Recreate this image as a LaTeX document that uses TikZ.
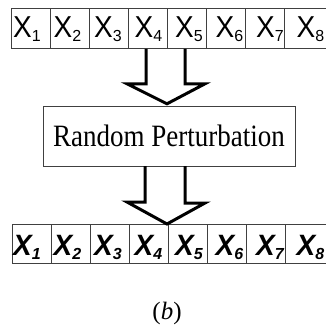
\documentclass[tikz,border=0pt]{standalone}
\usepackage{fontspec}
\setmainfont{Liberation Serif}
\newfontfamily\arialf{Liberation Sans}
\usetikzlibrary{calc}
\newcommand\subidx[1]{\raisebox{-4pt}{\fontsize{16}{16}\selectfont #1}}
\begin{document}
\begin{tikzpicture}[x=1pt,y=-1pt,
  cell/.style={draw=black!75,line width=0.8pt,minimum width=39pt,minimum height=40pt,inner sep=0pt,anchor=north west},
  xl/.style={inner sep=0pt,anchor=base west,font=\arialf\fontsize{28}{28}\selectfont},
  xlb/.style={inner sep=0pt,anchor=base west,font=\arialf\bfseries\itshape\fontsize{28}{28}\selectfont},
  procbox/.style={draw=black!75,line width=0.8pt,minimum width=252pt,minimum height=60pt,inner sep=0pt,font=\fontsize{27}{27}\selectfont},
  bigarrow/.style={line width=3pt,line join=miter}]
\useasboundingbox (0,0) rectangle (326,327);
% top row
\foreach \i in {1,...,7} \node[cell] (t\i) at ({11+39*(\i-1)},8) {};
\node[cell,minimum width=46pt] (t8) at (284,8) {};
\foreach \i in {1,...,8} \node[xl] (tx\i) at ({13+40.5*(\i-1)},37) {\scalebox{1}[1.08]{X}\subidx{\i}};
% box
\node[procbox] (rp) at (169,136) {\scalebox{1}[1.15]{Random Perturbation}};
% bottom row
\foreach \i in {1,...,7} \node[cell,minimum height=39pt] (b\i) at ({12+39*(\i-1)},224) {};
\node[cell,minimum height=39pt,minimum width=46pt] (b8) at (285,224) {};
\foreach \i in {1,...,8} \node[xlb] (bx\i) at ({13+40.5*(\i-1)},255) {\scalebox{1}[1.05]{X}\subidx{\i}};
% arrow 1
\coordinate (a1tip) at ($(t5.south west)+(0,55)$);
\draw[bigarrow] ($(t5.south west)+(-21,0)$) -- ++(0,35) -- ++(-19,0) -- (a1tip)
  -- ++(38,-20) -- ++(-20,0) -- ($(t5.south west)+(18,0)$);
% arrow 2
\coordinate (a2tip) at ($(b5.north west)+(-1,0)$);
\draw[bigarrow] ($(a2tip)+(-22,-58)$) -- ++(0,36) -- ++(-18,0) -- (a2tip)
  -- ++(38,-21) -- ++(-20,0) -- ($(a2tip)+(18,-58)$);
% caption
\node[font=\fontsize{25}{25}\selectfont] (cap) at (167,313) {(\textit{b})};
\end{tikzpicture}
\end{document}
